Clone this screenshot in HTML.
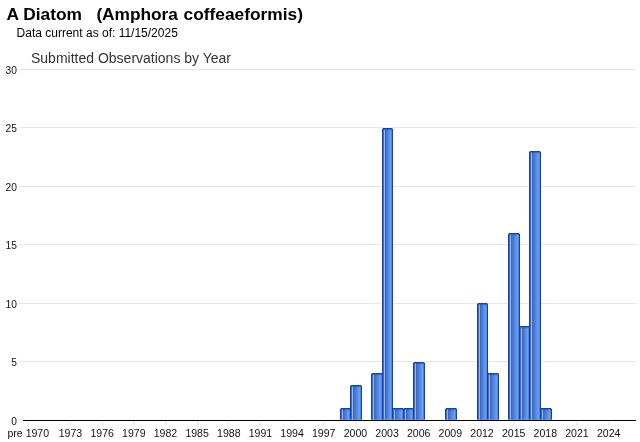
<!DOCTYPE html>
<html><head><meta charset="utf-8"><style>
html,body{margin:0;padding:0;background:#fff;width:640px;height:442px;overflow:hidden;position:relative;font-family:"Liberation Sans",sans-serif}
</style></head><body>
<svg width="640" height="442" viewBox="0 0 640 442" style="position:absolute;left:0;top:0;will-change:transform">

<g shape-rendering="crispEdges">
<rect x="19" y="361" width="617" height="1" fill="#e4e4e4"/>
<rect x="19" y="303" width="617" height="1" fill="#e4e4e4"/>
<rect x="19" y="244" width="617" height="1" fill="#e4e4e4"/>
<rect x="19" y="186" width="617" height="1" fill="#e4e4e4"/>
<rect x="19" y="127" width="617" height="1" fill="#e4e4e4"/>
<rect x="19" y="69" width="617" height="1" fill="#e4e4e4"/>
<rect x="28" y="422" width="1" height="3" fill="#e4e4e4"/><rect x="28" y="421" width="1" height="1" fill="#f2f2f2"/>
<rect x="70" y="422" width="1" height="3" fill="#e4e4e4"/><rect x="70" y="421" width="1" height="1" fill="#f2f2f2"/>
<rect x="102" y="422" width="1" height="3" fill="#e4e4e4"/><rect x="102" y="421" width="1" height="1" fill="#f2f2f2"/>
<rect x="133" y="422" width="1" height="3" fill="#e4e4e4"/><rect x="133" y="421" width="1" height="1" fill="#f2f2f2"/>
<rect x="165" y="422" width="1" height="3" fill="#e4e4e4"/><rect x="165" y="421" width="1" height="1" fill="#f2f2f2"/>
<rect x="197" y="422" width="1" height="3" fill="#e4e4e4"/><rect x="197" y="421" width="1" height="1" fill="#f2f2f2"/>
<rect x="228" y="422" width="1" height="3" fill="#e4e4e4"/><rect x="228" y="421" width="1" height="1" fill="#f2f2f2"/>
<rect x="260" y="422" width="1" height="3" fill="#e4e4e4"/><rect x="260" y="421" width="1" height="1" fill="#f2f2f2"/>
<rect x="292" y="422" width="1" height="3" fill="#e4e4e4"/><rect x="292" y="421" width="1" height="1" fill="#f2f2f2"/>
<rect x="323" y="422" width="1" height="3" fill="#e4e4e4"/><rect x="323" y="421" width="1" height="1" fill="#f2f2f2"/>
<rect x="355" y="422" width="1" height="3" fill="#e4e4e4"/><rect x="355" y="421" width="1" height="1" fill="#f2f2f2"/>
<rect x="387" y="422" width="1" height="3" fill="#e4e4e4"/><rect x="387" y="421" width="1" height="1" fill="#f2f2f2"/>
<rect x="418" y="422" width="1" height="3" fill="#e4e4e4"/><rect x="418" y="421" width="1" height="1" fill="#f2f2f2"/>
<rect x="450" y="422" width="1" height="3" fill="#e4e4e4"/><rect x="450" y="421" width="1" height="1" fill="#f2f2f2"/>
<rect x="481" y="422" width="1" height="3" fill="#e4e4e4"/><rect x="481" y="421" width="1" height="1" fill="#f2f2f2"/>
<rect x="513" y="422" width="1" height="3" fill="#e4e4e4"/><rect x="513" y="421" width="1" height="1" fill="#f2f2f2"/>
<rect x="545" y="422" width="1" height="3" fill="#e4e4e4"/><rect x="545" y="421" width="1" height="1" fill="#f2f2f2"/>
<rect x="576" y="422" width="1" height="3" fill="#e4e4e4"/><rect x="576" y="421" width="1" height="1" fill="#f2f2f2"/>
<rect x="608" y="422" width="1" height="3" fill="#e4e4e4"/><rect x="608" y="421" width="1" height="1" fill="#f2f2f2"/>
<rect x="381" y="361" width="1" height="1" fill="#f7f3ec"/><rect x="393" y="361" width="1" height="1" fill="#f7f3ec"/>
<rect x="381" y="303" width="1" height="1" fill="#f7f3ec"/><rect x="393" y="303" width="1" height="1" fill="#f7f3ec"/>
<rect x="381" y="244" width="1" height="1" fill="#f7f3ec"/><rect x="393" y="244" width="1" height="1" fill="#f7f3ec"/>
<rect x="381" y="186" width="1" height="1" fill="#f7f3ec"/><rect x="393" y="186" width="1" height="1" fill="#f7f3ec"/>
<rect x="382" y="127" width="11" height="1" fill="#f7f3ec"/>
<rect x="413" y="361" width="12" height="1" fill="#f7f3ec"/>
<rect x="476" y="361" width="1" height="1" fill="#f7f3ec"/><rect x="488" y="361" width="1" height="1" fill="#f7f3ec"/>
<rect x="476" y="303" width="1" height="1" fill="#f7f3ec"/><rect x="488" y="303" width="1" height="1" fill="#f7f3ec"/>
<rect x="507" y="361" width="1" height="1" fill="#f7f3ec"/><rect x="520" y="361" width="1" height="1" fill="#f7f3ec"/>
<rect x="507" y="303" width="1" height="1" fill="#f7f3ec"/><rect x="520" y="303" width="1" height="1" fill="#f7f3ec"/>
<rect x="507" y="244" width="1" height="1" fill="#f7f3ec"/><rect x="520" y="244" width="1" height="1" fill="#f7f3ec"/>
<rect x="518" y="361" width="1" height="1" fill="#f7f3ec"/><rect x="530" y="361" width="1" height="1" fill="#f7f3ec"/>
<rect x="528" y="361" width="1" height="1" fill="#f7f3ec"/><rect x="541" y="361" width="1" height="1" fill="#f7f3ec"/>
<rect x="528" y="303" width="1" height="1" fill="#f7f3ec"/><rect x="541" y="303" width="1" height="1" fill="#f7f3ec"/>
<rect x="528" y="244" width="1" height="1" fill="#f7f3ec"/><rect x="541" y="244" width="1" height="1" fill="#f7f3ec"/>
<rect x="528" y="186" width="1" height="1" fill="#f7f3ec"/><rect x="541" y="186" width="1" height="1" fill="#f7f3ec"/>
<path d="M340 409h1v-1h9v1h1V420H340z" fill="#0c46ad"/>
<rect x="340" y="408" width="1" height="1" fill="#0c46ad" opacity="0.35"/><rect x="350" y="408" width="1" height="1" fill="#0c46ad" opacity="0.35"/>
<rect x="341" y="409" width="1" height="11" fill="#4568bc"/>
<rect x="342" y="409" width="1" height="11" fill="#a0b4dc"/>
<rect x="343" y="409" width="1" height="11" fill="#3a6ac8"/>
<rect x="344" y="409" width="1" height="11" fill="#4474d0"/>
<rect x="345" y="409" width="1" height="11" fill="#4e7fd8"/>
<rect x="346" y="409" width="1" height="11" fill="#5889e0"/>
<rect x="347" y="409" width="1" height="11" fill="#6294e8"/>
<rect x="348" y="409" width="1" height="11" fill="#6c9ef0"/>
<rect x="349" y="409" width="1" height="11" fill="#5484e0"/>
<rect x="341" y="409" width="9" height="1" fill="#0c46ad" opacity="0.45"/>
<rect x="341" y="410" width="9" height="1" fill="#0c46ad" opacity="0.12"/>
<rect x="340" y="419" width="11" height="1" fill="#6aa4ff" opacity="0.45"/>
<path d="M350 386h1v-1h10v1h1V420H350z" fill="#0c46ad"/>
<rect x="350" y="385" width="1" height="1" fill="#0c46ad" opacity="0.35"/><rect x="361" y="385" width="1" height="1" fill="#0c46ad" opacity="0.35"/>
<rect x="351" y="386" width="1" height="34" fill="#4568bc"/>
<rect x="352" y="386" width="1" height="34" fill="#a0b4dc"/>
<rect x="353" y="386" width="1" height="34" fill="#3a6ac8"/>
<rect x="354" y="386" width="1" height="34" fill="#4273cf"/>
<rect x="355" y="386" width="1" height="34" fill="#4b7bd5"/>
<rect x="356" y="386" width="1" height="34" fill="#5384dc"/>
<rect x="357" y="386" width="1" height="34" fill="#5b8de3"/>
<rect x="358" y="386" width="1" height="34" fill="#6495e9"/>
<rect x="359" y="386" width="1" height="34" fill="#6c9ef0"/>
<rect x="360" y="386" width="1" height="34" fill="#5484e0"/>
<rect x="351" y="386" width="10" height="1" fill="#0c46ad" opacity="0.45"/>
<rect x="351" y="387" width="10" height="1" fill="#0c46ad" opacity="0.12"/>
<rect x="350" y="419" width="12" height="1" fill="#6aa4ff" opacity="0.45"/>
<path d="M371 374h1v-1h10v1h1V420H371z" fill="#0c46ad"/>
<rect x="371" y="373" width="1" height="1" fill="#0c46ad" opacity="0.35"/><rect x="382" y="373" width="1" height="1" fill="#0c46ad" opacity="0.35"/>
<rect x="372" y="374" width="1" height="46" fill="#4568bc"/>
<rect x="373" y="374" width="1" height="46" fill="#a0b4dc"/>
<rect x="374" y="374" width="1" height="46" fill="#3a6ac8"/>
<rect x="375" y="374" width="1" height="46" fill="#4273cf"/>
<rect x="376" y="374" width="1" height="46" fill="#4b7bd5"/>
<rect x="377" y="374" width="1" height="46" fill="#5384dc"/>
<rect x="378" y="374" width="1" height="46" fill="#5b8de3"/>
<rect x="379" y="374" width="1" height="46" fill="#6495e9"/>
<rect x="380" y="374" width="1" height="46" fill="#6c9ef0"/>
<rect x="381" y="374" width="1" height="46" fill="#5484e0"/>
<rect x="372" y="374" width="10" height="1" fill="#0c46ad" opacity="0.45"/>
<rect x="372" y="375" width="10" height="1" fill="#0c46ad" opacity="0.12"/>
<rect x="371" y="419" width="12" height="1" fill="#6aa4ff" opacity="0.45"/>
<path d="M382 129h1v-1h9v1h1V420H382z" fill="#0c46ad"/>
<rect x="382" y="128" width="1" height="1" fill="#0c46ad" opacity="0.35"/><rect x="392" y="128" width="1" height="1" fill="#0c46ad" opacity="0.35"/>
<rect x="383" y="129" width="1" height="291" fill="#4568bc"/>
<rect x="384" y="129" width="1" height="291" fill="#a0b4dc"/>
<rect x="385" y="129" width="1" height="291" fill="#3a6ac8"/>
<rect x="386" y="129" width="1" height="291" fill="#4474d0"/>
<rect x="387" y="129" width="1" height="291" fill="#4e7fd8"/>
<rect x="388" y="129" width="1" height="291" fill="#5889e0"/>
<rect x="389" y="129" width="1" height="291" fill="#6294e8"/>
<rect x="390" y="129" width="1" height="291" fill="#6c9ef0"/>
<rect x="391" y="129" width="1" height="291" fill="#5484e0"/>
<rect x="383" y="129" width="9" height="1" fill="#0c46ad" opacity="0.45"/>
<rect x="383" y="130" width="9" height="1" fill="#0c46ad" opacity="0.12"/>
<rect x="382" y="419" width="11" height="1" fill="#6aa4ff" opacity="0.45"/>
<path d="M392 409h1v-1h10v1h1V420H392z" fill="#0c46ad"/>
<rect x="392" y="408" width="1" height="1" fill="#0c46ad" opacity="0.35"/><rect x="403" y="408" width="1" height="1" fill="#0c46ad" opacity="0.35"/>
<rect x="393" y="409" width="1" height="11" fill="#4568bc"/>
<rect x="394" y="409" width="1" height="11" fill="#a0b4dc"/>
<rect x="395" y="409" width="1" height="11" fill="#3a6ac8"/>
<rect x="396" y="409" width="1" height="11" fill="#4273cf"/>
<rect x="397" y="409" width="1" height="11" fill="#4b7bd5"/>
<rect x="398" y="409" width="1" height="11" fill="#5384dc"/>
<rect x="399" y="409" width="1" height="11" fill="#5b8de3"/>
<rect x="400" y="409" width="1" height="11" fill="#6495e9"/>
<rect x="401" y="409" width="1" height="11" fill="#6c9ef0"/>
<rect x="402" y="409" width="1" height="11" fill="#5484e0"/>
<rect x="393" y="409" width="10" height="1" fill="#0c46ad" opacity="0.45"/>
<rect x="393" y="410" width="10" height="1" fill="#0c46ad" opacity="0.12"/>
<rect x="392" y="419" width="12" height="1" fill="#6aa4ff" opacity="0.45"/>
<path d="M403 409h1v-1h9v1h1V420H403z" fill="#0c46ad"/>
<rect x="403" y="408" width="1" height="1" fill="#0c46ad" opacity="0.35"/><rect x="413" y="408" width="1" height="1" fill="#0c46ad" opacity="0.35"/>
<rect x="404" y="409" width="1" height="11" fill="#4568bc"/>
<rect x="405" y="409" width="1" height="11" fill="#a0b4dc"/>
<rect x="406" y="409" width="1" height="11" fill="#3a6ac8"/>
<rect x="407" y="409" width="1" height="11" fill="#4474d0"/>
<rect x="408" y="409" width="1" height="11" fill="#4e7fd8"/>
<rect x="409" y="409" width="1" height="11" fill="#5889e0"/>
<rect x="410" y="409" width="1" height="11" fill="#6294e8"/>
<rect x="411" y="409" width="1" height="11" fill="#6c9ef0"/>
<rect x="412" y="409" width="1" height="11" fill="#5484e0"/>
<rect x="404" y="409" width="9" height="1" fill="#0c46ad" opacity="0.45"/>
<rect x="404" y="410" width="9" height="1" fill="#0c46ad" opacity="0.12"/>
<rect x="403" y="419" width="11" height="1" fill="#6aa4ff" opacity="0.45"/>
<path d="M413 363h1v-1h10v1h1V420H413z" fill="#0c46ad"/>
<rect x="413" y="362" width="1" height="1" fill="#0c46ad" opacity="0.35"/><rect x="424" y="362" width="1" height="1" fill="#0c46ad" opacity="0.35"/>
<rect x="414" y="363" width="1" height="57" fill="#4568bc"/>
<rect x="415" y="363" width="1" height="57" fill="#a0b4dc"/>
<rect x="416" y="363" width="1" height="57" fill="#3a6ac8"/>
<rect x="417" y="363" width="1" height="57" fill="#4273cf"/>
<rect x="418" y="363" width="1" height="57" fill="#4b7bd5"/>
<rect x="419" y="363" width="1" height="57" fill="#5384dc"/>
<rect x="420" y="363" width="1" height="57" fill="#5b8de3"/>
<rect x="421" y="363" width="1" height="57" fill="#6495e9"/>
<rect x="422" y="363" width="1" height="57" fill="#6c9ef0"/>
<rect x="423" y="363" width="1" height="57" fill="#5484e0"/>
<rect x="414" y="363" width="10" height="1" fill="#0c46ad" opacity="0.45"/>
<rect x="414" y="364" width="10" height="1" fill="#0c46ad" opacity="0.12"/>
<rect x="413" y="419" width="12" height="1" fill="#6aa4ff" opacity="0.45"/>
<path d="M445 409h1v-1h10v1h1V420H445z" fill="#0c46ad"/>
<rect x="445" y="408" width="1" height="1" fill="#0c46ad" opacity="0.35"/><rect x="456" y="408" width="1" height="1" fill="#0c46ad" opacity="0.35"/>
<rect x="446" y="409" width="1" height="11" fill="#4568bc"/>
<rect x="447" y="409" width="1" height="11" fill="#a0b4dc"/>
<rect x="448" y="409" width="1" height="11" fill="#3a6ac8"/>
<rect x="449" y="409" width="1" height="11" fill="#4273cf"/>
<rect x="450" y="409" width="1" height="11" fill="#4b7bd5"/>
<rect x="451" y="409" width="1" height="11" fill="#5384dc"/>
<rect x="452" y="409" width="1" height="11" fill="#5b8de3"/>
<rect x="453" y="409" width="1" height="11" fill="#6495e9"/>
<rect x="454" y="409" width="1" height="11" fill="#6c9ef0"/>
<rect x="455" y="409" width="1" height="11" fill="#5484e0"/>
<rect x="446" y="409" width="10" height="1" fill="#0c46ad" opacity="0.45"/>
<rect x="446" y="410" width="10" height="1" fill="#0c46ad" opacity="0.12"/>
<rect x="445" y="419" width="12" height="1" fill="#6aa4ff" opacity="0.45"/>
<path d="M477 304h1v-1h9v1h1V420H477z" fill="#0c46ad"/>
<rect x="477" y="303" width="1" height="1" fill="#0c46ad" opacity="0.35"/><rect x="487" y="303" width="1" height="1" fill="#0c46ad" opacity="0.35"/>
<rect x="478" y="304" width="1" height="116" fill="#4568bc"/>
<rect x="479" y="304" width="1" height="116" fill="#a0b4dc"/>
<rect x="480" y="304" width="1" height="116" fill="#3a6ac8"/>
<rect x="481" y="304" width="1" height="116" fill="#4474d0"/>
<rect x="482" y="304" width="1" height="116" fill="#4e7fd8"/>
<rect x="483" y="304" width="1" height="116" fill="#5889e0"/>
<rect x="484" y="304" width="1" height="116" fill="#6294e8"/>
<rect x="485" y="304" width="1" height="116" fill="#6c9ef0"/>
<rect x="486" y="304" width="1" height="116" fill="#5484e0"/>
<rect x="478" y="304" width="9" height="1" fill="#0c46ad" opacity="0.45"/>
<rect x="478" y="305" width="9" height="1" fill="#0c46ad" opacity="0.12"/>
<rect x="477" y="419" width="11" height="1" fill="#6aa4ff" opacity="0.45"/>
<path d="M487 374h1v-1h10v1h1V420H487z" fill="#0c46ad"/>
<rect x="487" y="373" width="1" height="1" fill="#0c46ad" opacity="0.35"/><rect x="498" y="373" width="1" height="1" fill="#0c46ad" opacity="0.35"/>
<rect x="488" y="374" width="1" height="46" fill="#4568bc"/>
<rect x="489" y="374" width="1" height="46" fill="#a0b4dc"/>
<rect x="490" y="374" width="1" height="46" fill="#3a6ac8"/>
<rect x="491" y="374" width="1" height="46" fill="#4273cf"/>
<rect x="492" y="374" width="1" height="46" fill="#4b7bd5"/>
<rect x="493" y="374" width="1" height="46" fill="#5384dc"/>
<rect x="494" y="374" width="1" height="46" fill="#5b8de3"/>
<rect x="495" y="374" width="1" height="46" fill="#6495e9"/>
<rect x="496" y="374" width="1" height="46" fill="#6c9ef0"/>
<rect x="497" y="374" width="1" height="46" fill="#5484e0"/>
<rect x="488" y="374" width="10" height="1" fill="#0c46ad" opacity="0.45"/>
<rect x="488" y="375" width="10" height="1" fill="#0c46ad" opacity="0.12"/>
<rect x="487" y="419" width="12" height="1" fill="#6aa4ff" opacity="0.45"/>
<path d="M508 234h1v-1h10v1h1V420H508z" fill="#0c46ad"/>
<rect x="508" y="233" width="1" height="1" fill="#0c46ad" opacity="0.35"/><rect x="519" y="233" width="1" height="1" fill="#0c46ad" opacity="0.35"/>
<rect x="509" y="234" width="1" height="186" fill="#4568bc"/>
<rect x="510" y="234" width="1" height="186" fill="#a0b4dc"/>
<rect x="511" y="234" width="1" height="186" fill="#3a6ac8"/>
<rect x="512" y="234" width="1" height="186" fill="#4273cf"/>
<rect x="513" y="234" width="1" height="186" fill="#4b7bd5"/>
<rect x="514" y="234" width="1" height="186" fill="#5384dc"/>
<rect x="515" y="234" width="1" height="186" fill="#5b8de3"/>
<rect x="516" y="234" width="1" height="186" fill="#6495e9"/>
<rect x="517" y="234" width="1" height="186" fill="#6c9ef0"/>
<rect x="518" y="234" width="1" height="186" fill="#5484e0"/>
<rect x="509" y="234" width="10" height="1" fill="#0c46ad" opacity="0.45"/>
<rect x="509" y="235" width="10" height="1" fill="#0c46ad" opacity="0.12"/>
<rect x="508" y="419" width="12" height="1" fill="#6aa4ff" opacity="0.45"/>
<path d="M519 327h1v-1h9v1h1V420H519z" fill="#0c46ad"/>
<rect x="519" y="326" width="1" height="1" fill="#0c46ad" opacity="0.35"/><rect x="529" y="326" width="1" height="1" fill="#0c46ad" opacity="0.35"/>
<rect x="520" y="327" width="1" height="93" fill="#4568bc"/>
<rect x="521" y="327" width="1" height="93" fill="#a0b4dc"/>
<rect x="522" y="327" width="1" height="93" fill="#3a6ac8"/>
<rect x="523" y="327" width="1" height="93" fill="#4474d0"/>
<rect x="524" y="327" width="1" height="93" fill="#4e7fd8"/>
<rect x="525" y="327" width="1" height="93" fill="#5889e0"/>
<rect x="526" y="327" width="1" height="93" fill="#6294e8"/>
<rect x="527" y="327" width="1" height="93" fill="#6c9ef0"/>
<rect x="528" y="327" width="1" height="93" fill="#5484e0"/>
<rect x="520" y="327" width="9" height="1" fill="#0c46ad" opacity="0.45"/>
<rect x="520" y="328" width="9" height="1" fill="#0c46ad" opacity="0.12"/>
<rect x="519" y="419" width="11" height="1" fill="#6aa4ff" opacity="0.45"/>
<path d="M529 152h1v-1h10v1h1V420H529z" fill="#0c46ad"/>
<rect x="529" y="151" width="1" height="1" fill="#0c46ad" opacity="0.35"/><rect x="540" y="151" width="1" height="1" fill="#0c46ad" opacity="0.35"/>
<rect x="530" y="152" width="1" height="268" fill="#4568bc"/>
<rect x="531" y="152" width="1" height="268" fill="#a0b4dc"/>
<rect x="532" y="152" width="1" height="268" fill="#3a6ac8"/>
<rect x="533" y="152" width="1" height="268" fill="#4273cf"/>
<rect x="534" y="152" width="1" height="268" fill="#4b7bd5"/>
<rect x="535" y="152" width="1" height="268" fill="#5384dc"/>
<rect x="536" y="152" width="1" height="268" fill="#5b8de3"/>
<rect x="537" y="152" width="1" height="268" fill="#6495e9"/>
<rect x="538" y="152" width="1" height="268" fill="#6c9ef0"/>
<rect x="539" y="152" width="1" height="268" fill="#5484e0"/>
<rect x="530" y="152" width="10" height="1" fill="#0c46ad" opacity="0.45"/>
<rect x="530" y="153" width="10" height="1" fill="#0c46ad" opacity="0.12"/>
<rect x="529" y="419" width="12" height="1" fill="#6aa4ff" opacity="0.45"/>
<path d="M540 409h1v-1h10v1h1V420H540z" fill="#0c46ad"/>
<rect x="540" y="408" width="1" height="1" fill="#0c46ad" opacity="0.35"/><rect x="551" y="408" width="1" height="1" fill="#0c46ad" opacity="0.35"/>
<rect x="541" y="409" width="1" height="11" fill="#4568bc"/>
<rect x="542" y="409" width="1" height="11" fill="#a0b4dc"/>
<rect x="543" y="409" width="1" height="11" fill="#3a6ac8"/>
<rect x="544" y="409" width="1" height="11" fill="#4273cf"/>
<rect x="545" y="409" width="1" height="11" fill="#4b7bd5"/>
<rect x="546" y="409" width="1" height="11" fill="#5384dc"/>
<rect x="547" y="409" width="1" height="11" fill="#5b8de3"/>
<rect x="548" y="409" width="1" height="11" fill="#6495e9"/>
<rect x="549" y="409" width="1" height="11" fill="#6c9ef0"/>
<rect x="550" y="409" width="1" height="11" fill="#5484e0"/>
<rect x="541" y="409" width="10" height="1" fill="#0c46ad" opacity="0.45"/>
<rect x="541" y="410" width="10" height="1" fill="#0c46ad" opacity="0.12"/>
<rect x="540" y="419" width="12" height="1" fill="#6aa4ff" opacity="0.45"/>
<rect x="23" y="420" width="613" height="1" fill="#000"/>
</g>
<g font-family="Liberation Sans, sans-serif" font-size="11" fill="#111">
<text transform="translate(16.9 424.5) scale(0.93 1)" text-anchor="end">0</text>
<text transform="translate(16.9 365.5) scale(0.93 1)" text-anchor="end">5</text>
<text transform="translate(16.9 307.5) scale(0.93 1)" text-anchor="end">10</text>
<text transform="translate(16.9 248.5) scale(0.93 1)" text-anchor="end">15</text>
<text transform="translate(16.9 190.5) scale(0.93 1)" text-anchor="end">20</text>
<text transform="translate(16.9 131.5) scale(0.93 1)" text-anchor="end">25</text>
<text transform="translate(16.9 73.5) scale(0.93 1)" text-anchor="end">30</text>
<text transform="translate(28.28 437) scale(0.96 1)" text-anchor="middle">pre 1970</text>
<text transform="translate(70.48 437) scale(0.96 1)" text-anchor="middle">1973</text>
<text transform="translate(102.14 437) scale(0.96 1)" text-anchor="middle">1976</text>
<text transform="translate(133.79 437) scale(0.96 1)" text-anchor="middle">1979</text>
<text transform="translate(165.45 437) scale(0.96 1)" text-anchor="middle">1982</text>
<text transform="translate(197.10 437) scale(0.96 1)" text-anchor="middle">1985</text>
<text transform="translate(228.76 437) scale(0.96 1)" text-anchor="middle">1988</text>
<text transform="translate(260.41 437) scale(0.96 1)" text-anchor="middle">1991</text>
<text transform="translate(292.07 437) scale(0.96 1)" text-anchor="middle">1994</text>
<text transform="translate(323.72 437) scale(0.96 1)" text-anchor="middle">1997</text>
<text transform="translate(355.38 437) scale(0.96 1)" text-anchor="middle">2000</text>
<text transform="translate(387.03 437) scale(0.96 1)" text-anchor="middle">2003</text>
<text transform="translate(418.69 437) scale(0.96 1)" text-anchor="middle">2006</text>
<text transform="translate(450.34 437) scale(0.96 1)" text-anchor="middle">2009</text>
<text transform="translate(482.00 437) scale(0.96 1)" text-anchor="middle">2012</text>
<text transform="translate(513.66 437) scale(0.96 1)" text-anchor="middle">2015</text>
<text transform="translate(545.31 437) scale(0.96 1)" text-anchor="middle">2018</text>
<text transform="translate(576.97 437) scale(0.96 1)" text-anchor="middle">2021</text>
<text transform="translate(608.62 437) scale(0.96 1)" text-anchor="middle">2024</text>
</g>
<g font-family="Liberation Sans, sans-serif" font-weight="bold" font-size="17.33" fill="#000">
<text x="6.5" y="20">A Diatom</text>
<text x="96.4" y="20" letter-spacing="-0.05">(Amphora</text>
<text x="183.5" y="20">coffeaeformis)</text>
</g>
<text x="16.6" y="37" font-family="Liberation Sans, sans-serif" font-size="12" fill="#000">Data current as of: 11/15/2025</text>
<text x="31" y="63" font-family="Liberation Sans, sans-serif" font-size="14" fill="#333">Submitted Observations by Year</text>
</svg>
</body></html>
